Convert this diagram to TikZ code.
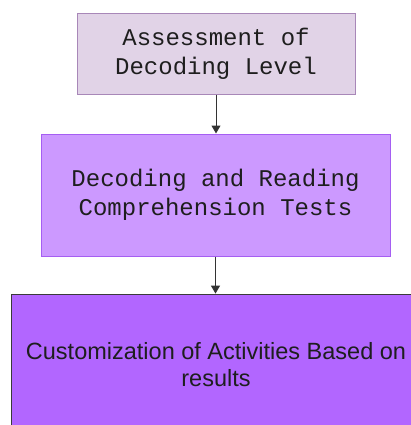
\documentclass[tikz,border=0pt]{standalone}
\usepackage{fontspec}
\setmainfont{Liberation Sans}
\newfontfamily\boxmono{Liberation Mono}
\newfontfamily\boxsans{Liberation Sans}
\usetikzlibrary{arrows.meta}
\definecolor{fillA}{HTML}{E1D3E7}
\definecolor{lineA}{HTML}{A887B8}
\definecolor{fillB}{HTML}{CC99FF}
\definecolor{lineB}{HTML}{A55EF2}
\definecolor{fillC}{HTML}{B266FF}
\definecolor{lineC}{HTML}{3A3A3A}
\definecolor{txt}{HTML}{1E1E1E}
\tikzset{
  monobox/.style={rectangle, align=center, text=txt, line width=1pt,
    font=\boxmono\fontsize{24}{28.5}\selectfont, inner sep=0pt},
  sansbox/.style={rectangle, align=center, text=txt, line width=1.2pt,
    font=\boxsans\fontsize{23.5}{27.5}\selectfont, inner sep=0pt},
  flowarrow/.style={draw=black!80, line width=1pt, -{Triangle[length=8pt,width=9pt]}}
}
\begin{document}
\begin{tikzpicture}[x=1pt,y=-1pt]
\useasboundingbox (0,0) rectangle (411,425);
\clip (0,0) rectangle (411,425);
\node[monobox, fill=fillA, draw=lineA, minimum width=278pt, minimum height=80.7pt] (a) at (216,53.7) {Assessment of\\Decoding Level};
\node[monobox, fill=fillB, draw=lineB, minimum width=349pt, minimum height=122pt] (b) at (215.5,195) {Decoding and Reading\\Comprehension Tests};
\node[sansbox, fill=fillC, draw=lineC, minimum width=408.6pt, minimum height=140.6pt] (c) at (216,364.5) {Customization of Activities Based on\\results};
\draw[flowarrow] (a.south) -- (a.south |- b.north);
\draw[flowarrow] (b.south) -- (b.south |- c.north);
\end{tikzpicture}
\end{document}
